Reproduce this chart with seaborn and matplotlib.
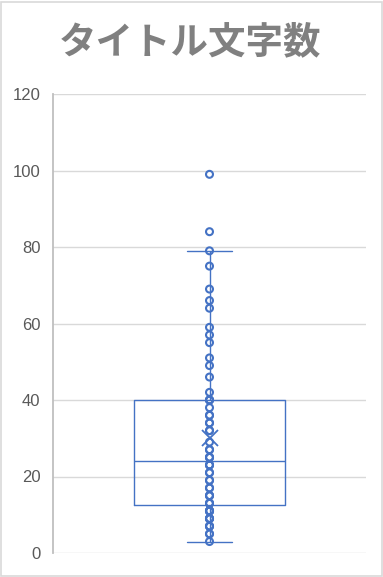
import matplotlib
matplotlib.use("Agg")
import matplotlib.pyplot as plt
import seaborn as sns
import numpy as np
import pandas as pd
from matplotlib.patches import Rectangle

# タイトル文字数 (値はグラフから読み取り)
title_text = "タイトル文字数"
yticks = [0, 20, 40, 60, 80, 100, 120]
title_lengths = [
    3, 5, 5, 7, 7, 7, 9, 9, 9, 9, 11, 11, 11, 11, 11,
    13, 13, 13, 15, 15, 15, 17, 17, 19, 19, 21, 21, 23, 23, 23,
    25, 25, 25, 27, 27, 29, 32, 32, 34, 34, 36, 36, 38, 40, 40,
    40, 42, 46, 49, 51, 55, 57, 59, 64, 66, 69, 75, 79, 84, 99,
]

df = pd.DataFrame({"文字数": title_lengths})

blue = "#4472C4"
grid_gray = "#d9d9d9"
text_gray = "#595959"

sns.set_style("white")
plt.rcParams["font.family"] = ["Noto Sans CJK JP", "DejaVu Sans"]

fig = plt.figure(figsize=(3.83, 5.77), dpi=100)
ax = fig.add_axes([53 / 383, 24 / 577, 313 / 383, 459 / 577])

sns.boxplot(data=df, y="文字数", ax=ax, fill=False, color=blue, linewidth=1,
            width=0.48, showfliers=False, whis=1.5, capwidths=0.144,
            showmeans=True,
            meanprops=dict(marker="x", markeredgecolor=blue, markersize=11,
                           markeredgewidth=1.3))
sns.stripplot(data=df, y="文字数", ax=ax, jitter=False, size=5, marker="o",
              linewidth=1.5, edgecolor=blue, color="white", zorder=5)
ax.collections[-1].set_facecolor("none")

ax.set_ylim(0, 120)
ax.set_xlim(-0.5, 0.5)
ax.set_yticks(yticks)
ax.set_xticks([])
ax.set_xlabel("")
ax.set_ylabel("")
ax.yaxis.grid(True, color=grid_gray, linewidth=1)
ax.set_axisbelow(True)
ax.tick_params(axis="y", length=0, pad=9, labelsize=12, labelcolor=text_gray)
for lab in ax.get_yticklabels():
    lab.set_family(["Liberation Sans", "DejaVu Sans"])
for s in ["top", "right", "bottom"]:
    ax.spines[s].set_visible(False)
ax.spines["left"].set_color("#bfbfbf")
ax.spines["left"].set_linewidth(1.3)

fig.text(0.497, 1 - 42 / 577, title_text, ha="center", va="center",
         fontsize=27, fontweight="bold", color="#808080")

fig.add_artist(Rectangle((0.002, 0.002), 0.995, 0.995, transform=fig.transFigure,
                         fill=False, edgecolor=grid_gray, linewidth=1.2))

fig.savefig("out.png", dpi=100)
